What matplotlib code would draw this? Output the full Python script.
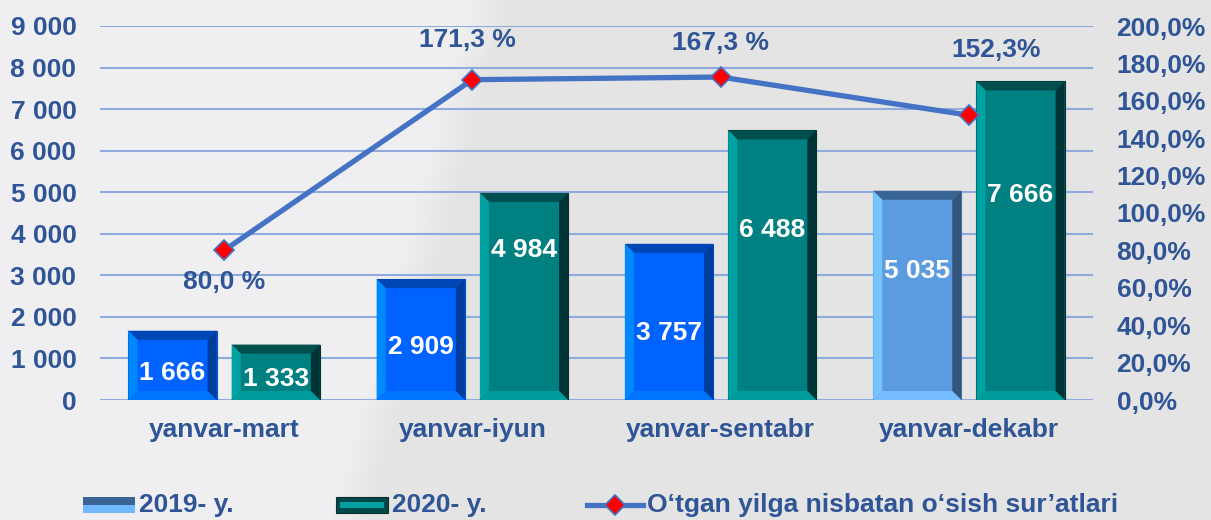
import numpy as np
import matplotlib
matplotlib.use("Agg")
import matplotlib.pyplot as plt
from matplotlib.patches import Polygon, Rectangle
from matplotlib.lines import Line2D
from matplotlib.ticker import FuncFormatter

# data
categories = ["yanvar-mart", "yanvar-iyun", "yanvar-sentabr", "yanvar-dekabr"]
values_2019 = [1666, 2909, 3757, 5035]
values_2020 = [1333, 4984, 6488, 7666]
growth = [80.0, 171.3, 172.7, 152.3]
growth_labels = ["80,0 %", "171,3 %", "167,3 %", "152,3%"]
legend_labels = ["2019- y.", "2020- y.", "O\u2018tgan yilga nisbatan o\u2018sish sur\u2019atlari"]

# where the value labels sit inside the bars (left axis units)
label_y_2019 = [650, 1275, 1612, 3104]
label_y_2020 = [505, 3610, 4090, 4933]
# where the percent labels sit (right axis units) and x offsets
pct_label_y = [63, 192.5, 191, 187]
pct_label_dx = [0.0, -0.02, 0.0, 0.11]

TXT = "#2f5597"
FS = 19
plt.rcParams["font.family"] = ["Liberation Sans", "DejaVu Sans"]
plt.rcParams["font.weight"] = "bold"

W, H = 1211, 520
fig = plt.figure(figsize=(W / 100, H / 100), dpi=100)

# background with soft diagonal split
bg = fig.add_axes([0, 0, 1, 1], zorder=-10)
yy, xx = np.mgrid[0:H, 0:W]
edge = 330 + (H - yy) * 0.27
t = np.clip((xx - edge) / 40.0, 0, 1)[..., None]
light = np.array([239, 239, 242]) / 255
dark = np.array([228, 228, 228]) / 255
img = light * (1 - t) + dark * t
bg.imshow(img, aspect="auto", extent=[0, 1, 0, 1])
bg.axis("off")

ax = fig.add_axes([100 / W, 120 / H, 993 / W, 374 / H])
ax.patch.set_alpha(0)
ax2 = ax.twinx()

x = np.arange(len(categories))
bw = 0.355
off = 0.208
bx = 9 / 248
by = 9 * 9000 / 374


def bevel_bars(xs, vals, face, top, left, right, bottom, edgecolor):
    bars = ax.bar(xs, vals, width=bw, color=face, edgecolor=edgecolor, linewidth=0.8, zorder=3)
    for b in bars:
        x0 = b.get_x()
        x1 = x0 + b.get_width()
        h = b.get_height()
        polys = [
            ([(x0, h), (x1, h), (x1 - bx, h - by), (x0 + bx, h - by)], top),
            ([(x0, 0), (x0, h), (x0 + bx, h - by), (x0 + bx, by)], left),
            ([(x1, 0), (x1, h), (x1 - bx, h - by), (x1 - bx, by)], right),
            ([(x0, 0), (x1, 0), (x1 - bx, by), (x0 + bx, by)], bottom),
        ]
        for pts, c in polys:
            ax.add_patch(Polygon(pts, closed=True, facecolor=c, edgecolor="none", zorder=3.5))
    return bars


# 2019 bars: first three bright blue, last one light blue
bevel_bars(x[:3] - off, values_2019[:3], "#0062ff", "#0046b4", "#0088ff", "#003c9c", "#0076ff", "#0050c0")
bevel_bars(x[3:] - off, values_2019[3:], "#5b9be0", "#3a6494", "#74c4ff", "#34557c", "#74bcff", "#4a7ab0")
bevel_bars(x + off, values_2020, "#008080", "#004f4f", "#00a2a2", "#003434", "#009c9c", "#0a2e2e")

for i in range(len(categories)):
    ax.text(x[i] - off, label_y_2019[i], f"{values_2019[i]:,}".replace(",", " "),
            color="white", fontsize=FS, fontweight="bold", ha="center", va="center", zorder=5)
    ax.text(x[i] + off, label_y_2020[i], f"{values_2020[i]:,}".replace(",", " "),
            color="white", fontsize=FS, fontweight="bold", ha="center", va="center", zorder=5)

ax.set_xlim(-0.5, len(categories) - 0.5)
ax.set_ylim(0, 9000)
ax.set_yticks(np.arange(0, 9001, 1000))
ax.yaxis.set_major_formatter(FuncFormatter(lambda v, p: f"{int(v):,}".replace(",", " ")))
ax.grid(axis="y", color="#8faadc", linewidth=1.5, zorder=0)
ax.set_axisbelow(True)
ax.set_xticks(x)
ax.set_xticklabels(categories)
ax.tick_params(axis="both", length=0, labelsize=FS, labelcolor=TXT)
ax.tick_params(axis="x", pad=13)
ax.tick_params(axis="y", pad=17)
for s in ax.spines.values():
    s.set_visible(False)

# growth line on right axis
ax2.plot(x, growth, color="#4472c4", linewidth=3.8, marker="D", markersize=10,
         markerfacecolor="#ff0000", markeredgecolor="#4472c4", markeredgewidth=1.2, zorder=6)
ax2.set_ylim(0, 200)
ax2.set_yticks(np.arange(0, 201, 20))
ax2.yaxis.set_major_formatter(FuncFormatter(lambda v, p: f"{v:.1f}%".replace(".", ",")))
ax2.tick_params(axis="y", length=0, labelsize=FS, labelcolor=TXT, pad=17)
for s in ax2.spines.values():
    s.set_visible(False)
for i in range(len(categories)):
    ax2.text(x[i] + pct_label_dx[i], pct_label_y[i], growth_labels[i], color=TXT,
             fontsize=FS, fontweight="bold", ha="center", va="center", zorder=7)

# legend drawn by hand along the bottom
ly = 1 - 505 / H
sh = 16 / H
fig.patches.append(Rectangle((83 / W, ly - sh / 2), 52 / W, sh / 2, transform=fig.transFigure,
                             facecolor="#70b8ff", edgecolor="none"))
fig.patches.append(Rectangle((83 / W, ly), 52 / W, sh / 2, transform=fig.transFigure,
                             facecolor="#3a6494", edgecolor="none"))
fig.patches.append(Rectangle((336 / W, ly - sh / 2), 52 / W, sh, transform=fig.transFigure,
                             facecolor="#004848", edgecolor="#0a2e2e", linewidth=0.8))
fig.patches.append(Rectangle((340 / W, ly - sh / 6), 44 / W, sh / 3, transform=fig.transFigure,
                             facecolor="#00a0a0", edgecolor="none"))
fig.lines.append(Line2D([587 / W, 643 / W], [ly, ly], transform=fig.transFigure,
                        color="#4472c4", linewidth=3.8))
fig.lines.append(Line2D([615 / W], [ly], transform=fig.transFigure, marker="D", markersize=10,
                        markerfacecolor="#ff0000", markeredgecolor="#4472c4", markeredgewidth=1.2))
for tx, lab in zip([139, 392, 647], legend_labels):
    fig.text(tx / W, ly, lab, color=TXT, fontsize=FS, fontweight="bold", ha="left", va="center")

fig.savefig("out.png", dpi=100)
